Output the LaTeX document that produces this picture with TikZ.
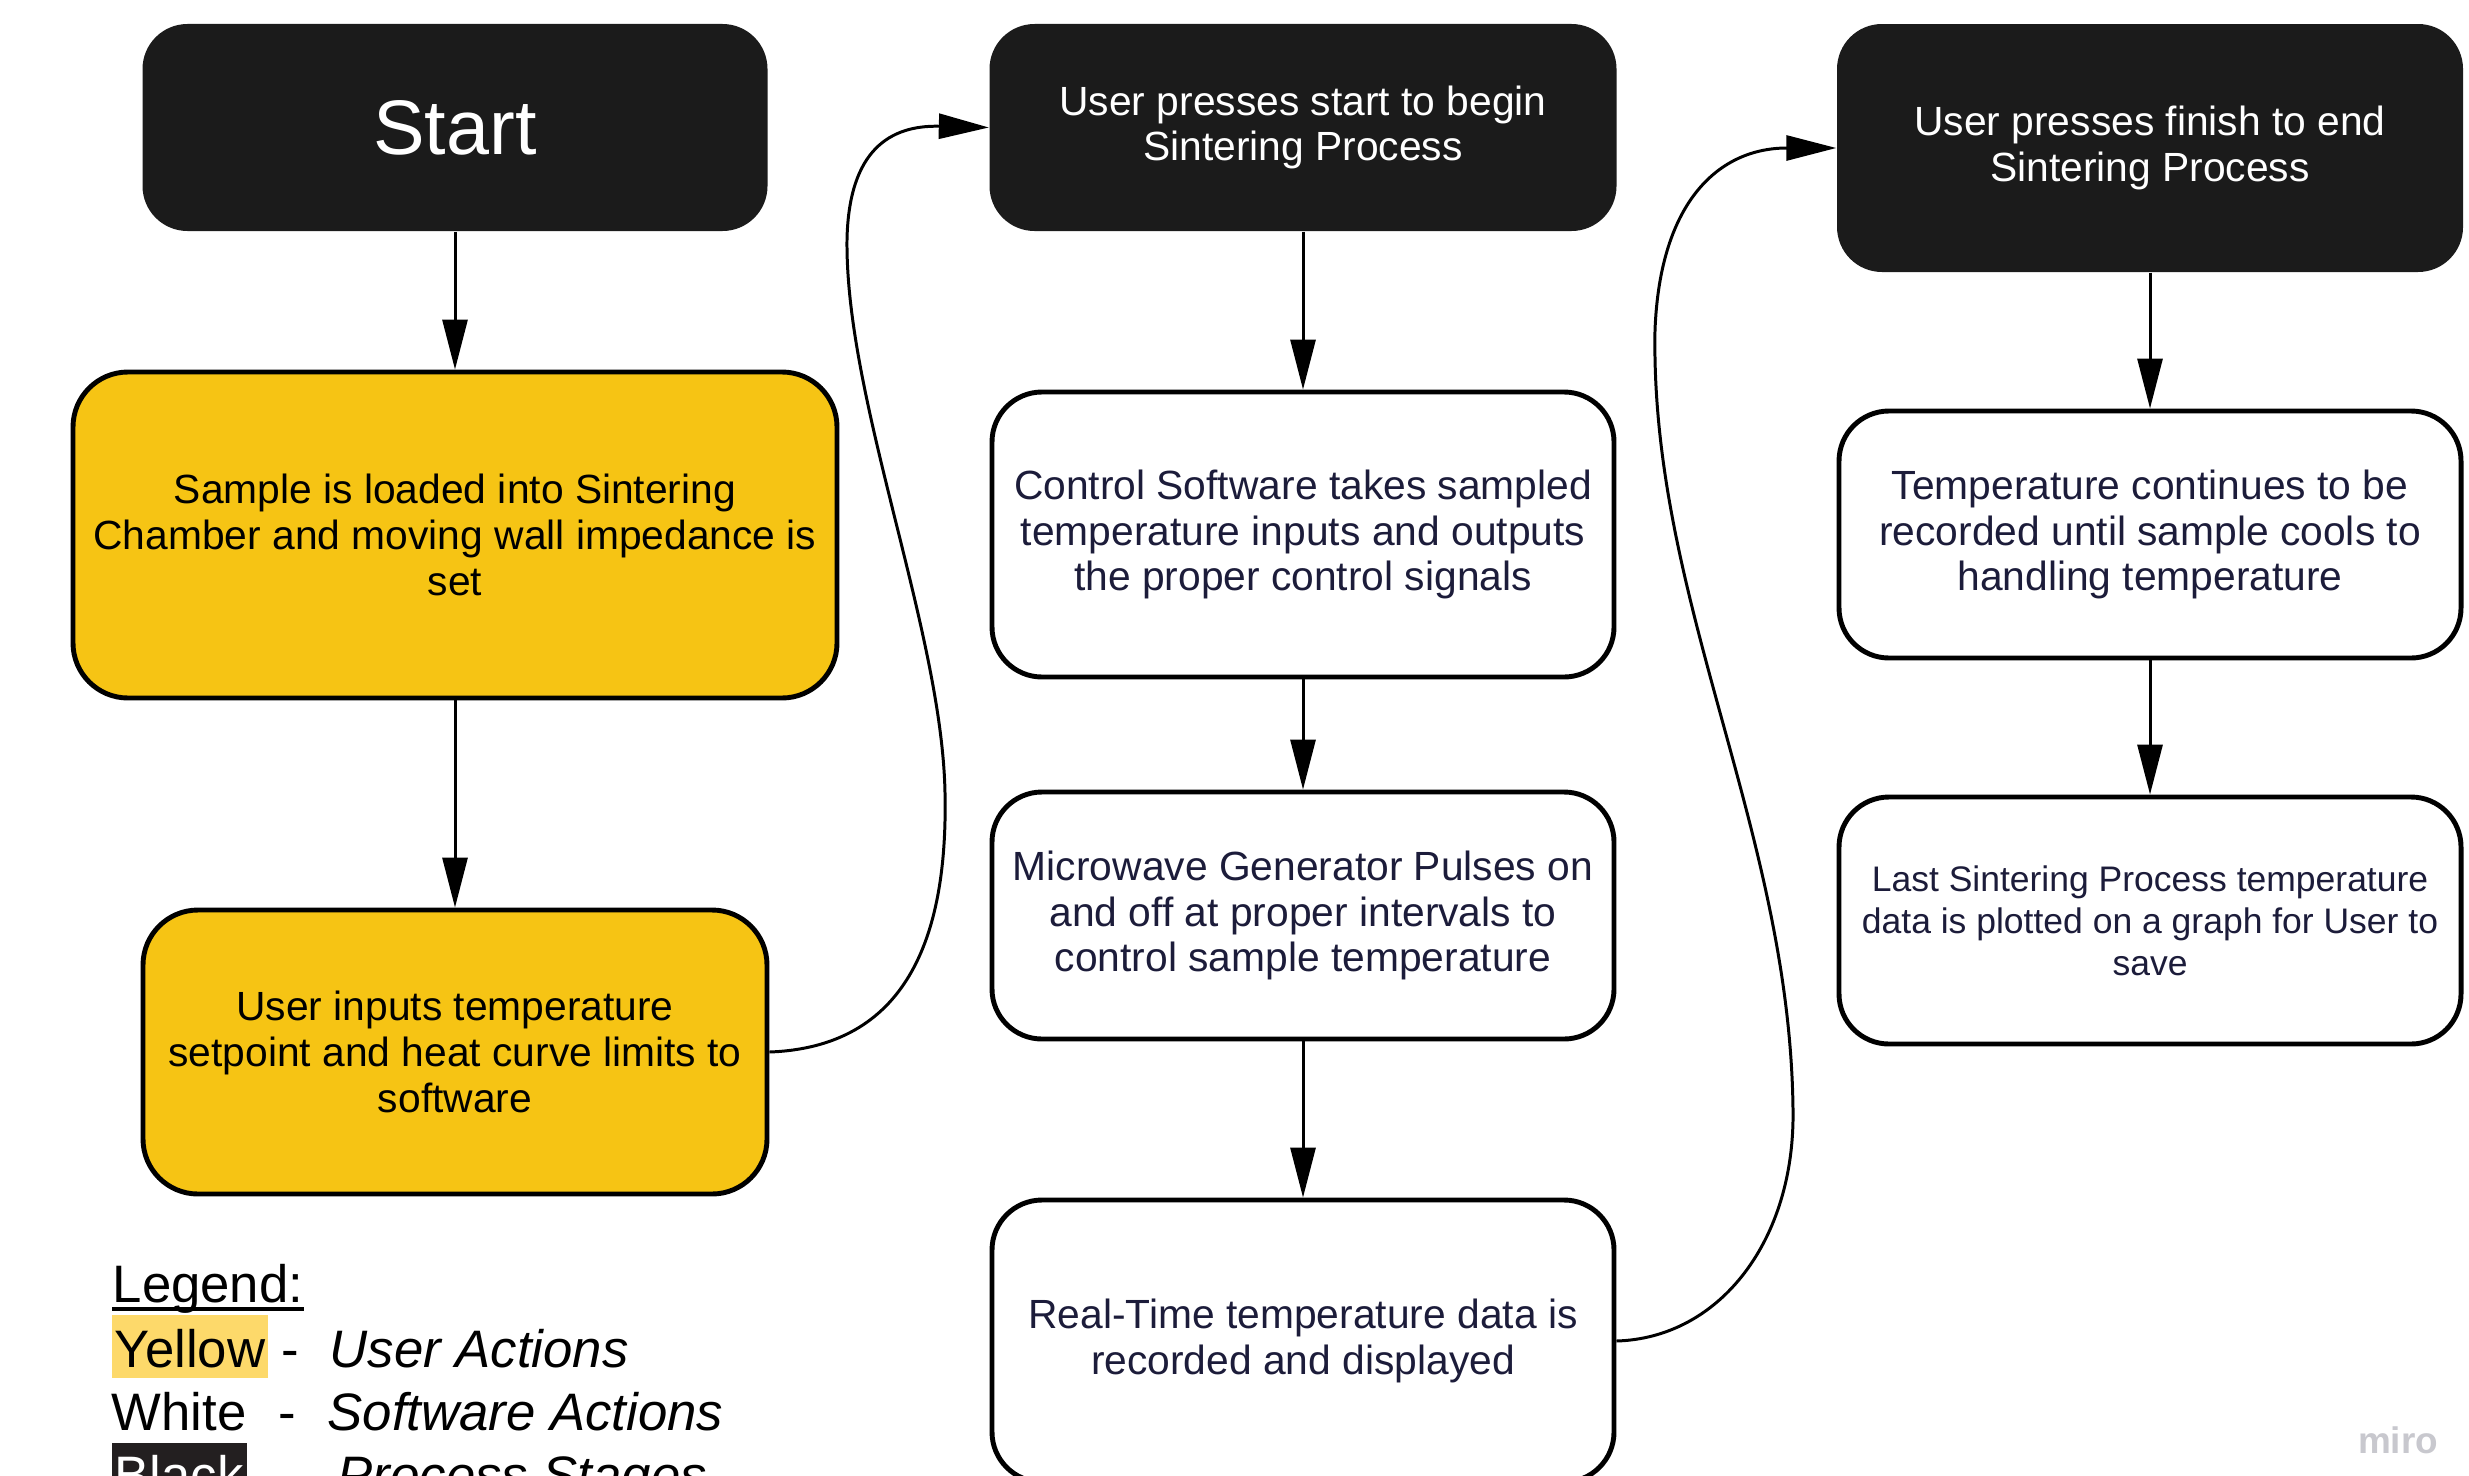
\documentclass[tikz,border=0pt]{standalone}
\usepackage{fontspec}
\setmainfont{Liberation Sans}
\usepackage{tikz}
\usetikzlibrary{arrows.meta}

\definecolor{userYellow}{RGB}{246,196,20}
\definecolor{stageBlack}{RGB}{27,27,27}
\definecolor{softText}{RGB}{28,28,58}
\definecolor{legendYellow}{RGB}{253,217,106}
\definecolor{legendBlack}{RGB}{35,31,32}
\definecolor{miroGray}{RGB}{200,200,206}

\begin{document}
\begin{tikzpicture}
    \tikzset{StageBox/.style = {shape=rectangle,rounded corners=0.45cm,fill=stageBlack,text=white,align=center,inner sep=0pt,font=\fontsize{11.6}{13}\selectfont}}
    \tikzset{UserBox/.style = {shape=rectangle,rounded corners=0.55cm,draw,line width=1.4pt,fill=userYellow,text=black,align=center,inner sep=0pt,font=\fontsize{11.6}{13}\selectfont}}
    \tikzset{SoftBox/.style = {shape=rectangle,rounded corners=0.5cm,draw,line width=1.4pt,fill=white,text=softText,align=center,inner sep=0pt,font=\fontsize{11.6}{13}\selectfont}}
    \tikzset{LegendText/.style = {anchor=base west,inner sep=0pt,font=\fontsize{15}{18}\selectfont}}
    \tikzset{LegendItalic/.style = {LegendText,font=\fontsize{15}{18}\selectfont\itshape}}

    \tikzset{flow/.style = {-{Triangle[length=5mm,width=2.5mm]},line width=0.85pt,black}}

    \path[fill=white,use as bounding box] (0,0) rectangle (24.69,-14.75);

    %User column
    \node[StageBox,minimum width=6.25cm,minimum height=2.07cm,font=\fontsize{22}{26}\selectfont] (start) at (4.55,-1.275) {Start};
    \node[UserBox,minimum width=7.64cm,minimum height=3.26cm] (loadSample) at (4.55,-5.35) {Sample is loaded into Sintering\\Chamber and moving wall impedance is\\set};
    \node[UserBox,minimum width=6.24cm,minimum height=2.84cm] (userInput) at (4.55,-10.52) {User inputs temperature\\setpoint and heat curve limits to\\software};

    %Sintering column
    \node[StageBox,minimum width=6.27cm,minimum height=2.07cm] (beginProc) at (13.03,-1.275) {User presses start to begin\\Sintering Process};
    \node[SoftBox,minimum width=6.22cm,minimum height=2.85cm] (controlSw) at (13.03,-5.345) {Control Software takes sampled\\temperature inputs and outputs\\the proper control signals};
    \node[SoftBox,minimum width=6.22cm,minimum height=2.47cm] (pulseGen) at (13.03,-9.155) {Microwave Generator Pulses on\\and off at proper intervals to\\control sample temperature};
    \node[SoftBox,minimum width=6.22cm,minimum height=2.82cm] (recordData) at (13.03,-13.41) {Real-Time temperature data is\\recorded and displayed};

    %Finish column
    \node[StageBox,minimum width=6.26cm,minimum height=2.48cm] (finishProc) at (21.50,-1.48) {User presses finish to end\\Sintering Process};
    \node[SoftBox,minimum width=6.22cm,minimum height=2.47cm] (coolDown) at (21.50,-5.345) {Temperature continues to be\\recorded until sample cools to\\handling temperature};
    \node[SoftBox,minimum width=6.22cm,minimum height=2.47cm,font=\fontsize{10.1}{12}\selectfont] (plotData) at (21.50,-9.205) {Last Sintering Process temperature\\data is plotted on a graph for User to\\save};

    %Straight arrows
    \draw [flow] (start.south) -- (loadSample.north);
    \draw [flow] (loadSample.south) -- (userInput.north);
    \draw [flow] (beginProc.south) -- (controlSw.north);
    \draw [flow] (controlSw.south) -- (pulseGen.north);
    \draw [flow] (pulseGen.south) -- (recordData.north);
    \draw [flow] (finishProc.south) -- (coolDown.north);
    \draw [flow] (coolDown.south) -- (plotData.north);

    %Between columns
    \draw [flow] (userInput.east) .. controls (9.05,-10.47) and (9.48,-9.4) .. (9.45,-7.93)
        .. controls (9.42,-6.3) and (8.45,-4.0) .. (8.47,-2.39)
        .. controls (8.49,-1.5) and (8.9,-1.25) .. (beginProc.west);
    \draw [flow] (recordData.east) .. controls (17.2,-13.38) and (17.95,-12.4) .. (17.93,-11.1)
        .. controls (17.9,-8.3) and (16.5,-6.0) .. (16.55,-3.3)
        .. controls (16.6,-2.0) and (17.2,-1.48) .. (finishProc.west);

    %Legend
    \node[LegendText] (legendTitle) at (1.12,-13.02) {Legend:};
    \draw [line width=1.3pt] ([yshift=-0.7mm]legendTitle.base west) -- ([yshift=-0.7mm]legendTitle.base east);

    \node[LegendText,fill=legendYellow,inner xsep=0.3mm,text height=0.52cm,text depth=0.11cm] (yellowKey) at (1.11,-13.67) {Yellow};
    \node[LegendText] (yellowDash) at (2.81,-13.67) {-};
    \node[LegendItalic] (yellowDesc) at (3.29,-13.67) {User Actions};

    \node[LegendText] (whiteKey) at (1.11,-14.30) {White};
    \node[LegendText] (whiteDash) at (2.78,-14.30) {-};
    \node[LegendItalic] (whiteDesc) at (3.27,-14.30) {Software Actions};

    \node[LegendText,fill=legendBlack,text=white,inner xsep=0.3mm,text height=0.50cm,text depth=0.11cm] (blackKey) at (1.11,-14.93) {Black};
    \node[LegendText] (blackDash) at (2.78,-14.93) {-};
    \node[LegendItalic] (blackDesc) at (3.37,-14.93) {Process Stages};

    \node[font=\fontsize{10.5}{12}\selectfont\bfseries,text=miroGray,inner sep=0pt] (miroMark) at (23.98,-14.40) {miro};

\end{tikzpicture}
\end{document}
